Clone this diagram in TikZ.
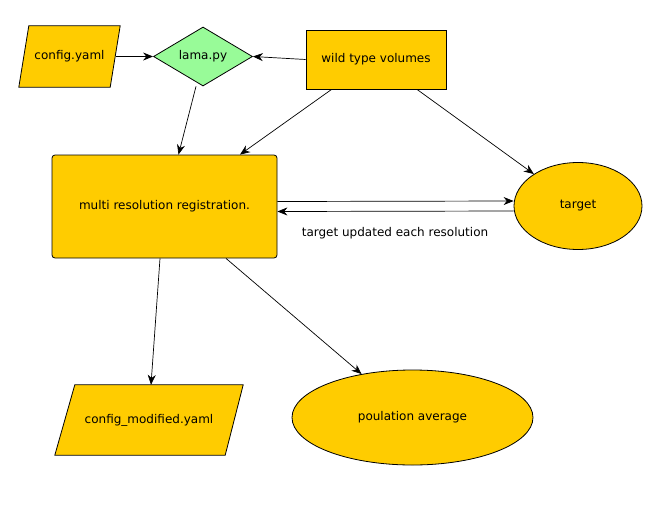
\documentclass[tikz,border=0pt]{standalone}
\usepackage{fontspec}
\setmainfont{DejaVu Sans}
\usetikzlibrary{shapes.geometric,arrows.meta,backgrounds}
\definecolor{boxfill}{RGB}{255,204,0}
\definecolor{diafill}{RGB}{152,251,152}
\begin{document}
\begin{tikzpicture}[x=1pt,y=-1pt,
  every node/.style={font=\fontsize{12}{14}\selectfont, inner sep=0pt},
  shp/.style={draw=black, line width=0.8pt, fill=boxfill},
  paratxt/.style={rectangle},
  conn/.style={line width=0.7pt, -{Stealth[length=10pt,width=8pt]}}]
\useasboundingbox (0,0) rectangle (662,528);
\node[paratxt, minimum width=101pt, minimum height=61pt] (cfg) at (69.5,56.5) {config.yaml};
\node[shp, diamond, fill=diafill, minimum width=99pt, minimum height=59pt, aspect=1.68] (lama) at (203,56.5) {lama.py};
\node[shp, rectangle, minimum width=140pt, minimum height=59pt] (wild) at (376,59.5) {wild type volumes};
\node[shp, rectangle, rounded corners=3pt, minimum width=225pt, minimum height=103pt] (multi) at (164.5,206.5) {multi resolution registration.};
\node[shp, ellipse, minimum width=128pt, minimum height=87pt] (target) at (578,206) {target};
\node[paratxt, minimum width=188pt, minimum height=70pt] (cfgmod) at (149,420) {config\_modified.yaml};
\node[shp, ellipse, minimum width=241pt, minimum height=95pt] (pop) at (412.5,417.5) {poulation average};
\node (lbl) at (395,233.5) {target updated each resolution};

\begin{scope}[on background layer]
\draw[shp] ([xshift=10pt]cfg.north west) -- (cfg.north east) -- ([xshift=-10pt]cfg.south east) -- (cfg.south west) -- cycle;
\draw[shp] ([xshift=20pt]cfgmod.north west) -- (cfgmod.north east) -- ([xshift=-18pt]cfgmod.south east) -- (cfgmod.south west) -- cycle;
\end{scope}

\draw[conn] ([xshift=-4pt]cfg.east) -- (lama.west);
\draw[conn] (wild.west) -- (lama.east);
\draw[conn] ([xshift=-7pt]lama.south) -- ([xshift=14pt]multi.north);
\draw[conn] ([xshift=26pt]wild.south west) -- ([xshift=75.5pt]multi.north);
\draw[conn] ([xshift=41pt]wild.south) -- (target);
\draw[conn] ([yshift=5pt]multi.east) -- ([yshift=5pt]target.west);
\draw[conn] ([yshift=-5pt]target.west) -- ([yshift=-5pt]multi.east);
\draw[conn] ([xshift=-4.5pt]multi.south) -- ([xshift=2pt]cfgmod.north);
\draw[conn] ([xshift=61.5pt]multi.south) -- (pop);
\end{tikzpicture}
\end{document}
